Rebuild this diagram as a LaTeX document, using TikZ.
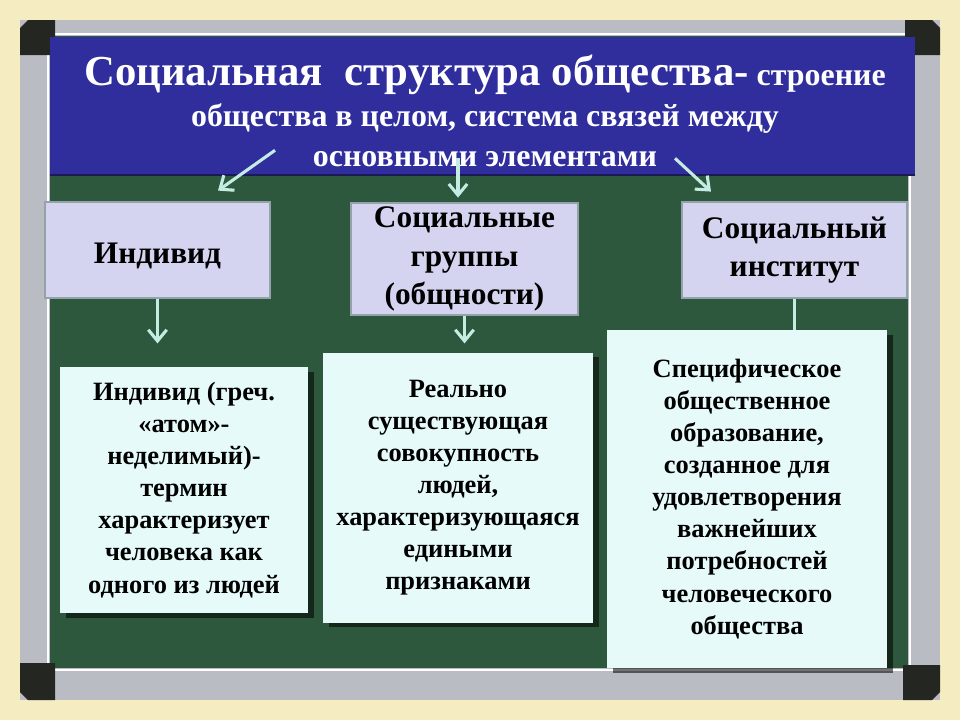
\documentclass[tikz,border=0pt]{standalone}
\usepackage{fontspec}
\setmainfont{Liberation Serif}
\usetikzlibrary{arrows.meta, positioning, calc, shadows}
\definecolor{wallbeige}{RGB}{245,236,194}
\definecolor{framegray}{RGB}{186,188,196}
\definecolor{cornerdark}{RGB}{36,38,34}
\definecolor{boardgreen}{RGB}{46,88,62}
\definecolor{titleblue}{RGB}{48,46,156}
\definecolor{lavfill}{RGB}{212,212,240}
\definecolor{lavedge}{RGB}{150,162,170}
\definecolor{infofill}{RGB}{230,250,250}
\definecolor{arrowcol}{RGB}{196,236,226}
\tikzstyle{lavbox} = [rectangle, inner sep=0pt, draw=lavedge, line width=2pt, fill=lavfill, align=center, font=\fontsize{22.3}{27.5}\selectfont\bfseries, execute at begin node={\rule{0pt}{1.03em}}]
\tikzstyle{infobox} = [rectangle, inner sep=0pt, fill=infofill, align=center, font=\fontsize{18.8}{22.8}\selectfont\bfseries, drop shadow={shadow xshift=1.6mm, shadow yshift=-1.2mm, fill=black, opacity=0.55}]
\tikzstyle{arrow} = [line width=2.2pt, draw=arrowcol, -{Straight Barb[length=2.8mm, width=4.6mm]}]

\begin{document}
\begin{tikzpicture}[x=0.25mm, y=-0.25mm]

% Доска
\fill[wallbeige] (0,0) rectangle (960,720);
\fill[framegray] (20,20) rectangle (940,700);
\draw[white, line width=1.5pt] (48,34) rectangle (910,670);
\fill[boardgreen] (50,36) rectangle (908,668);
\fill[cornerdark] (20,28) -- (28,20) -- (55,20) -- (55,55) -- (20,55) -- cycle;
\fill[cornerdark] (905,20) -- (932,20) -- (940,28) -- (940,55) -- (905,55) -- cycle;
\fill[cornerdark] (20,663) -- (55,663) -- (55,700) -- (28,700) -- (20,692) -- cycle;
\fill[cornerdark] (903,665) -- (940,665) -- (940,692) -- (932,700) -- (903,700) -- cycle;

% Заголовок
\node (title) [rectangle, inner sep=0pt, fill=titleblue, minimum width=216.25mm, minimum height=34.5mm] at (482.5,106) {};
\draw[titleblue!55!black, line width=1.5pt] (title.south west) -- (title.south east);
\node (titletext) [text=white, align=center, font=\fontsize{22.7}{29}\selectfont\bfseries] at (485,111)
  {{\fontsize{30.4}{29}\selectfont Социальная\ \ структура общества-} строение\\
   общества в целом, система связей между\\
   основными элементами};

% Элементы структуры
\node (ind) [lavbox, minimum width=56.25mm, minimum height=24mm] at (157.5,250) {Индивид};
\node (groups) [lavbox, minimum width=56.75mm, minimum height=28mm] at (464.5,259) {Социальные\\группы\\(общности)};
\node (inst) [lavbox, minimum width=56.25mm, minimum height=24mm] at (794.5,250) {Социальный\\институт};

% Определения
\node (indtext) [infobox, minimum width=62mm, minimum height=61.5mm] at (184,490)
  {Индивид (греч.\\«атом»-\\неделимый)-\\термин\\характеризует\\человека как\\одного из людей};
\node (groupstext) [infobox, minimum width=67.5mm, minimum height=67.5mm] at (458,487.5)
  {Реально\\существующая\\совокупность\\людей,\\характеризующаяся\\едиными\\признаками};
\node (insttext) [infobox, minimum width=70mm, minimum height=84.5mm] at (747,499)
  {Специфическое\\общественное\\образование,\\созданное для\\удовлетворения\\важнейших\\потребностей\\человеческого\\общества};

% Стрелки
\draw [arrow] ([shift={(-207.5,-25)}]title.south) -- ([shift={(60.5,-10)}]ind.north);
\draw [arrow] ([shift={(-24.5,-17)}]title.south) -- ([shift={(-6.5,-4)}]groups.north);
\draw [arrow] ([shift={(192.5,-17)}]title.south) -- ([shift={(-83.5,-9)}]inst.north);
\draw [arrow] (ind.south) -- ([shift={(0,44)}]ind.south);
\draw [arrow] (groups.south) -- ([shift={(0,27)}]groups.south);
\draw [line width=2.2pt, draw=arrowcol] (inst.south) -- (insttext.north -| inst.south);

\end{tikzpicture}
\end{document}
